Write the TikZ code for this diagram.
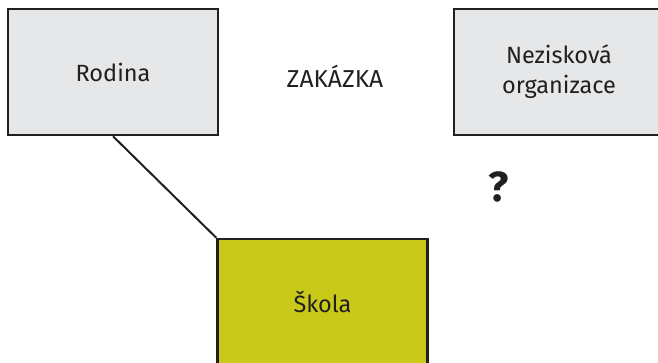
\documentclass[tikz,border=0pt]{standalone}
\usepackage{fontspec}
\setmainfont{Fira Sans}
\definecolor{boxgray}{RGB}{230,231,232}
\definecolor{skolafill}{RGB}{200,201,24}
\definecolor{inkdark}{RGB}{35,31,32}

\begin{document}
\begin{tikzpicture}[x=1pt,y=-1pt,
  box/.style={draw=inkdark,line width=2.5pt,minimum width=210pt,minimum height=126pt,
    inner sep=0pt,align=center,text=inkdark,font=\fontsize{23.5}{30}\selectfont}]
\useasboundingbox (0,0) rectangle (658,362);
\clip (0,0) rectangle (658,362);
\node[box,fill=boxgray] (rodina) at (113,72) {Rodina};
\node[box,fill=boxgray] (nezisk) at (559,72) {Nezisková\\organizace};
\node[box,fill=skolafill] (skola) at (322.5,302) {Škola};
\node[text=inkdark,font=\fontsize{24.5}{26}\selectfont] (zakazka) at (335,76) {ZAKÁZKA};
\node[text=inkdark,font=\fontsize{42}{44}\bfseries] (otaznik) at (499,187) {?};
\draw[inkdark,line width=2pt] (rodina.south) -- (skola.north west);
\end{tikzpicture}
\end{document}
